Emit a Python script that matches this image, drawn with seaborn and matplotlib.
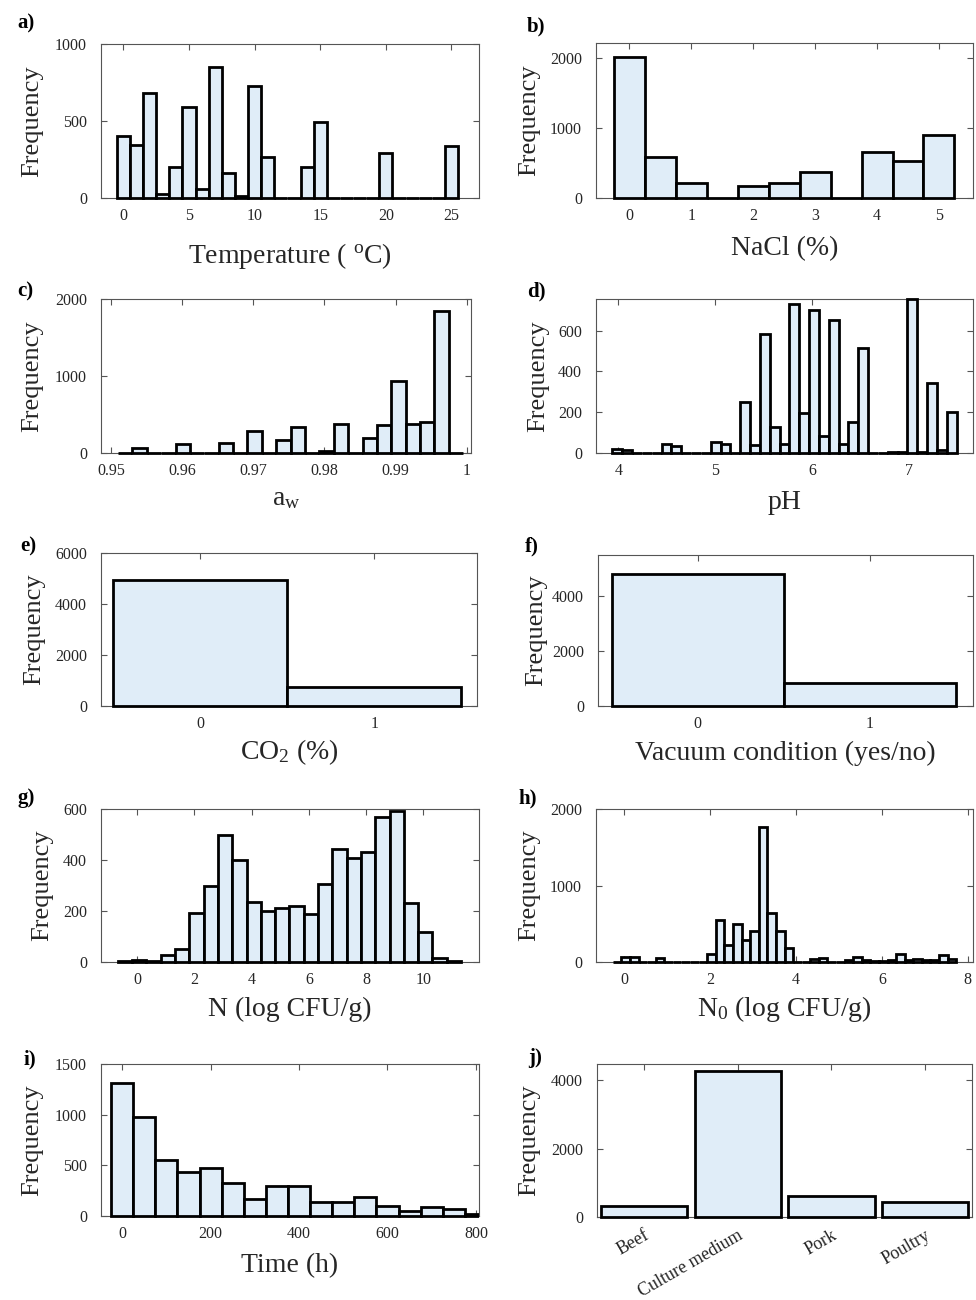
import numpy as np
import pandas as pd
import matplotlib
matplotlib.use("Agg")
import matplotlib.pyplot as plt
import matplotlib.patches as mpatches
import matplotlib.transforms as mtransforms
import seaborn as sns

# ---- data (bin edges + counts) ----
# a) temperature
temp_edges = np.arange(-0.5, 26.0, 1.0)
temp_counts = [400, 346, 682, 26, 201, 591, 58, 848, 160, 11, 725, 266, 0, 0, 201, 491,
               0, 0, 0, 0, 292, 0, 0, 0, 0, 340]
# b) NaCl
nacl_edges = np.arange(-0.25, 5.5, 0.5)
nacl_counts = [2010, 581, 214, 0, 176, 214, 371, 0, 652, 524, 900]
# c) water activity
aw_edges = np.linspace(0.9510, 0.9995, 25)
aw_counts = [0, 65, 0, 0, 113, 0, 0, 135, 0, 287, 0, 165, 339, 0, 26, 374, 0, 200,
             361, 935, 374, 404, 1848, 0]
# d) pH
ph_edges = np.linspace(3.94, 7.49, 36)
ph_counts = [21, 13, 0, 0, 0, 46, 33, 0, 0, 0, 54, 42, 0, 252, 37, 585, 127, 42,
             732, 195, 699, 83, 650, 42, 151, 517, 0, 0, 3, 5, 753, 5, 341, 13, 200]
# e) CO2, f) vacuum
binary_edges = [-0.5, 0.5, 1.5]
co2_counts = [4928, 734]
vac_counts = [4805, 841]
# g) N
n_edges = np.linspace(-0.68, 11.32, 25)
n_counts = [3, 9, 5, 26, 52, 192, 300, 498, 400, 235, 201, 211, 218, 189, 305, 442,
            409, 430, 567, 593, 231, 116, 16, 3]
# h) N0
n0_edges = np.linspace(-0.27, 7.73, 41)
n0_counts = [5, 61, 70, 0, 0, 50, 0, 0, 0, 0, 5, 104, 552, 226, 500, 291, 400, 1761,
             639, 400, 183, 2, 5, 45, 50, 3, 5, 30, 65, 20, 15, 10, 20, 109, 25, 45,
             30, 25, 87, 40]
# i) time
time_edges = np.arange(-25, 826, 50)
time_counts = [1312, 976, 554, 438, 478, 330, 165, 297, 297, 142, 135, 185, 99, 53,
               92, 66, 20]
# j) matrix
matrix_names = ["Beef", "Culture medium", "Pork", "Poultry"]
matrix_counts = [312, 4273, 615, 439]

FILL = "#e0edf8"
GREY = "#555555"
W, H = 976, 1300

sns.set_theme(style="ticks")
plt.rcParams["font.family"] = ["Liberation Serif", "DejaVu Serif"]
plt.rcParams["mathtext.fontset"] = "custom"
plt.rcParams["mathtext.rm"] = "Liberation Serif"
plt.rcParams["mathtext.it"] = "Liberation Serif:italic"
plt.rcParams["mathtext.bf"] = "Liberation Serif:bold"

fig = plt.figure(figsize=(W / 100, H / 100), dpi=100)


def make_ax(l, t, r, b):
    return fig.add_axes([l / W, 1 - b / H, (r - l) / W, (b - t) / H])


def unclip_baseline(ax):
    # clip bars only left/right so the bottom edge (and zero bins) show fully
    box = mpatches.Rectangle((0, -0.05), 1, 1.1, transform=ax.transAxes,
                             facecolor="none", edgecolor="none")
    for p in ax.patches:
        p.set_clip_path(box)
        p.set_zorder(3)


def hist_panel(ax, edges, counts):
    edges = [float(e) for e in edges]
    centers = [(a + b) / 2 for a, b in zip(edges[:-1], edges[1:])]
    df = pd.DataFrame({"x": centers, "n": counts})
    sns.histplot(data=df, x="x", weights="n", bins=edges, ax=ax, color=FILL,
                 edgecolor="black", linewidth=2.0, alpha=1)
    unclip_baseline(ax)


def style(ax, xlim, ylim, xticks, yticks, xlabel, tag, tag_xy, ylab_x, xlab_y,
          xticklabels=None):
    ax.set_xlim(xlim)
    ax.set_ylim(ylim)
    ax.set_xticks(xticks)
    if xticklabels is not None:
        ax.set_xticklabels(xticklabels)
    ax.set_yticks(yticks)
    ax.tick_params(direction="in", top=True, right=True, length=4, width=0.8,
                   color=GREY, labelsize=11.5, labelcolor="#262626")
    ax.tick_params(axis="x", pad=7)
    ax.tick_params(axis="y", pad=10)
    for s in ax.spines.values():
        s.set_visible(True)
        s.set_color(GREY)
        s.set_linewidth(0.8)
    ax.set_ylabel("Frequency", fontsize=19, color="#262626")
    ax.yaxis.set_label_coords(ylab_x / W, 0.5,
                              transform=mtransforms.blended_transform_factory(fig.transFigure, ax.transAxes))
    if xlabel:
        ax.set_xlabel(xlabel, fontsize=20, color="#262626")
        ax.xaxis.label.set_verticalalignment("baseline")
        ax.xaxis.set_label_coords(0.5, 1 - xlab_y / H,
                                  transform=mtransforms.blended_transform_factory(ax.transAxes, fig.transFigure))
    else:
        ax.set_xlabel("")
    fig.text(tag_xy[0] / W, 1 - tag_xy[1] / H, tag, fontsize=15, fontweight="bold",
             ha="left", va="top", color="black")


# a)
ax = make_ax(101, 44, 479, 198)
hist_panel(ax, temp_edges, temp_counts)
style(ax, (-1.7, 27.1), (0, 1000), [0, 5, 10, 15, 20, 25], [0, 500, 1000],
      r"Temperature ( $^{\rm o}$C)", "a)", (17, 13), 43, 263)

# b)
ax = make_ax(596, 43, 973, 198)
hist_panel(ax, nacl_edges, nacl_counts)
style(ax, (-0.54, 5.55), (0, 2214), [0, 1, 2, 3, 4, 5], [0, 1000, 2000],
      "NaCl (%)", "b)", (527, 16), 540, 255)

# c)
ax = make_ax(101, 299, 471, 453)
hist_panel(ax, aw_edges, aw_counts)
style(ax, (0.9486, 1.0006), (0, 2000), [0.95, 0.96, 0.97, 0.98, 0.99, 1.0],
      [0, 1000, 2000], r"a$_{\rm w}$", "c)", (17, 281), 43, 505,
      xticklabels=["0.95", "0.96", "0.97", "0.98", "0.99", "1"])

# d)
ax = make_ax(596, 299, 973, 453)
hist_panel(ax, ph_edges, ph_counts)
style(ax, (3.77, 7.66), (0, 755), [4, 5, 6, 7], [0, 200, 400, 600],
      "pH", "d)", (527, 281), 549, 509)

# e)
ax = make_ax(101, 553, 477, 706)
hist_panel(ax, binary_edges, co2_counts)
style(ax, (-0.57, 1.59), (0, 6000), [0, 1], [0, 2000, 4000, 6000],
      r"CO$_2$ (%)", "e)", (20, 536), 45, 759)

# f)
ax = make_ax(598, 555, 973, 706)
hist_panel(ax, binary_edges, vac_counts)
style(ax, (-0.58, 1.6), (0, 5500), [0, 1], [0, 2000, 4000],
      "Vacuum condition (yes/no)", "f)", (525, 536), 547, 760)

# g)
ax = make_ax(101, 809, 479, 962)
hist_panel(ax, n_edges, n_counts)
style(ax, (-1.27, 11.95), (0, 600), [0, 2, 4, 6, 8, 10], [0, 200, 400, 600],
      "N (log CFU/g)", "g)", (17, 788), 53, 1016)

# h)
ax = make_ax(596, 809, 973, 962)
hist_panel(ax, n0_edges, n0_counts)
style(ax, (-0.66, 8.12), (0, 2000), [0, 2, 4, 6, 8], [0, 1000, 2000],
      r"N$_0$ (log CFU/g)", "h)", (518, 788), 540, 1016)

# i)
ax = make_ax(101, 1064, 479, 1216)
hist_panel(ax, time_edges, time_counts)
style(ax, (-48, 807), (0, 1500), [0, 200, 400, 600, 800], [0, 500, 1000, 1500],
      "Time (h)", "i)", (24, 1049), 43, 1272)

# j)
ax = make_ax(597, 1064, 972, 1217)
dfj = pd.DataFrame({"matrix": matrix_names, "n": matrix_counts})
sns.barplot(data=dfj, x="matrix", y="n", ax=ax, color=FILL, saturation=1,
            width=0.92, edgecolor="black", linewidth=2.0)
unclip_baseline(ax)
style(ax, (-0.5, 3.5), (0, 4470), [0, 1, 2, 3], [0, 2000, 4000],
      None, "j)", (528, 1048), 540, 0, xticklabels=matrix_names)
for lab in ax.get_xticklabels():
    lab.set_rotation(30)
    lab.set_ha("right")
    lab.set_rotation_mode("anchor")
    lab.set_fontsize(13)

fig.savefig("out.png", dpi=100)
